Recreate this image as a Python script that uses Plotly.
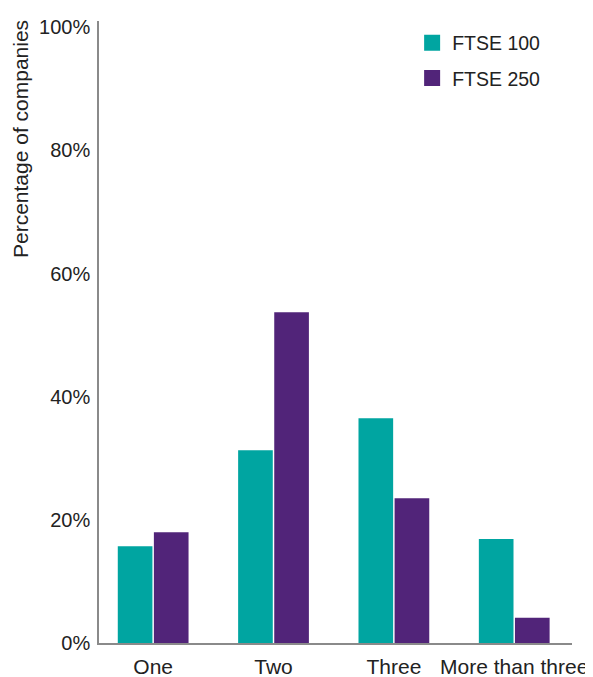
import plotly.graph_objects as go

categories = ["One", "Two", "Three", "More than three"]
ftse100 = [15.7, 31.3, 36.5, 16.9]
ftse250 = [18.0, 53.7, 23.5, 4.1]
y_ticks = [0, 20, 40, 60, 80, 100]
y_tick_labels = ["0%", "20%", "40%", "60%", "80%", "100%"]
series_names = ["FTSE 100", "FTSE 250"]

TEAL = "#00A5A1"
PURPLE = "#512479"
FONT = "Liberation Sans, Arial, sans-serif"
TEXT = "#222222"
colors = [TEAL, PURPLE]

fig = go.Figure()
for name, vals, col in zip(series_names, [ftse100, ftse250], colors):
    fig.add_trace(go.Bar(x=categories, y=vals, name=name, marker_color=col,
                         marker_line_width=0, showlegend=False))
# legend-only entries with larger square swatches
for name, col in zip(series_names, colors):
    fig.add_trace(go.Scatter(x=[None], y=[None], mode="markers", name=name,
                             legendgroup=name,
                             marker=dict(symbol="square", size=16, color=col)))

# page has an 8px body margin, so the figure is sized to fit inside the window
fig.update_layout(
    width=585, height=669,
    margin=dict(l=91, r=21, t=13, b=34, autoexpand=False),
    paper_bgcolor="white", plot_bgcolor="white",
    barmode="group", bargap=0.4, bargroupgap=0.04,
    font=dict(family=FONT, size=19, color=TEXT),
    showlegend=True,
    legend=dict(x=0.662, y=0.996, xanchor="left", yanchor="top",
                font=dict(size=19.5, color=TEXT), tracegroupgap=7,
                itemsizing="trace", bgcolor="rgba(0,0,0,0)"),
    xaxis=dict(type="category", range=[-0.45, 3.48], showline=True,
               linecolor="#8a8a8a", linewidth=1.5, showgrid=False, automargin=False,
               ticks="outside", ticklen=4, tickcolor="rgba(0,0,0,0)",
               tickfont=dict(size=21, color=TEXT)),
    yaxis=dict(range=[0, 101], showline=True, linecolor="#8a8a8a", linewidth=1.5,
               showgrid=False, zeroline=False, tickvals=y_ticks, ticktext=y_tick_labels,
               ticks="outside", ticklen=3, tickcolor="rgba(0,0,0,0)", automargin=False,
               tickfont=dict(size=20, color=TEXT)),
    annotations=[dict(text="Percentage of companies", textangle=-90, xref="paper",
                      yref="paper", x=-0.166, y=0.811, xanchor="center", yanchor="middle",
                      showarrow=False, borderpad=0, font=dict(size=21, color=TEXT))],
)

fig.write_html("out.html")
